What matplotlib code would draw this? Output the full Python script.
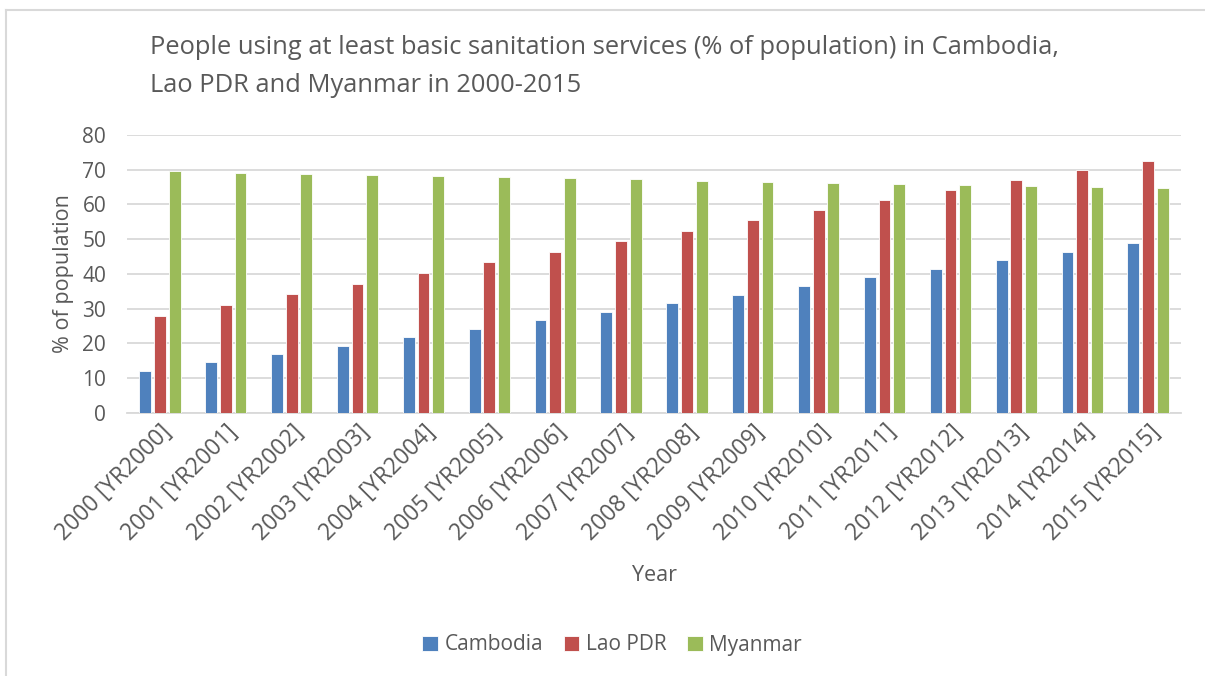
import matplotlib
matplotlib.use("Agg")
import matplotlib.pyplot as plt
from matplotlib.lines import Line2D
import numpy as np

plt.rcParams['font.family'] = ['Open Sans', 'DejaVu Sans']

years = list(range(2000, 2016))
tick_labels = [f"{y} [YR{y}]" for y in years]
series_names = ["Cambodia", "Lao PDR", "Myanmar"]
cambodia = [12.2, 14.6, 17.1, 19.4, 21.9, 24.3, 26.7, 29.2, 31.6, 34.1, 36.5, 39.0, 41.4, 43.9, 46.3, 48.8]
lao_pdr = [27.9, 31.0, 34.2, 37.2, 40.2, 43.4, 46.4, 49.5, 52.5, 55.4, 58.3, 61.2, 64.1, 67.0, 69.8, 72.6]
myanmar = [69.6, 69.2, 68.9, 68.5, 68.1, 67.8, 67.5, 67.2, 66.9, 66.6, 66.3, 66.0, 65.5, 65.2, 64.9, 64.7]
colors = ["#4F81BD", "#C0504D", "#9BBB59"]
text_color = "#595959"

fig = plt.figure(figsize=(12.05, 6.76), dpi=100)
ax = fig.add_axes([127 / 1205, 1 - 413 / 676, (1181 - 127) / 1205, (413 - 135) / 676])

x = np.arange(len(years))
width = 0.18
step = 0.223
for i, (vals, name, col) in enumerate(zip([cambodia, lao_pdr, myanmar], series_names, colors)):
    ax.bar(x + (i - 1) * step, vals, width, color=col, label=name,
           edgecolor="white", linewidth=0.6, zorder=3)

ax.set_xlim(-0.5, len(years) - 0.5)
ax.set_ylim(0, 80)
ax.set_yticks(range(0, 81, 10))
ax.yaxis.grid(True, color="#D9D9D9", linewidth=1.3, zorder=0)
ax.set_axisbelow(True)
for s in ["top", "right", "left"]:
    ax.spines[s].set_visible(False)
ax.spines["bottom"].set_color("#D9D9D9")
ax.spines["bottom"].set_linewidth(1.3)
ax.tick_params(axis="y", length=0, colors=text_color, labelsize=15, pad=15)
ax.tick_params(axis="x", length=0, colors=text_color, labelsize=16.5, pad=5)
ax.set_xticks(x)
ax.set_xticklabels(tick_labels, rotation=45, ha="right", rotation_mode="anchor")

ax.set_ylabel("% of population", color=text_color, fontsize=15.5, labelpad=6)
ax.set_xlabel("Year", color=text_color, fontsize=15.5, labelpad=14)

fig.text(150 / 1205, 1 - 48 / 676, "People using at least basic sanitation services (% of population) in Cambodia,",
         color=text_color, fontsize=18.4, va="center", ha="left")
fig.text(150 / 1205, 1 - 86 / 676, "Lao PDR and Myanmar in 2000-2015",
         color=text_color, fontsize=18.4, va="center", ha="left")

leg = fig.legend(loc="center", bbox_to_anchor=(612 / 1205, 1 - 645 / 676), ncol=3, frameon=False,
                 fontsize=15, handlelength=0.75, handleheight=0.75, handletextpad=0.3, columnspacing=1.0)
for t in leg.get_texts():
    t.set_color(text_color)

# chart area frame (top and left edges)
fig.add_artist(Line2D([6 / 1205, 1], [1 - 10 / 676, 1 - 10 / 676], transform=fig.transFigure,
                      color="#D9D9D9", linewidth=1.5))
fig.add_artist(Line2D([6 / 1205, 6 / 1205], [0, 1 - 10 / 676], transform=fig.transFigure,
                      color="#D9D9D9", linewidth=1.5))

fig.savefig("out.png", dpi=100, facecolor="white")
